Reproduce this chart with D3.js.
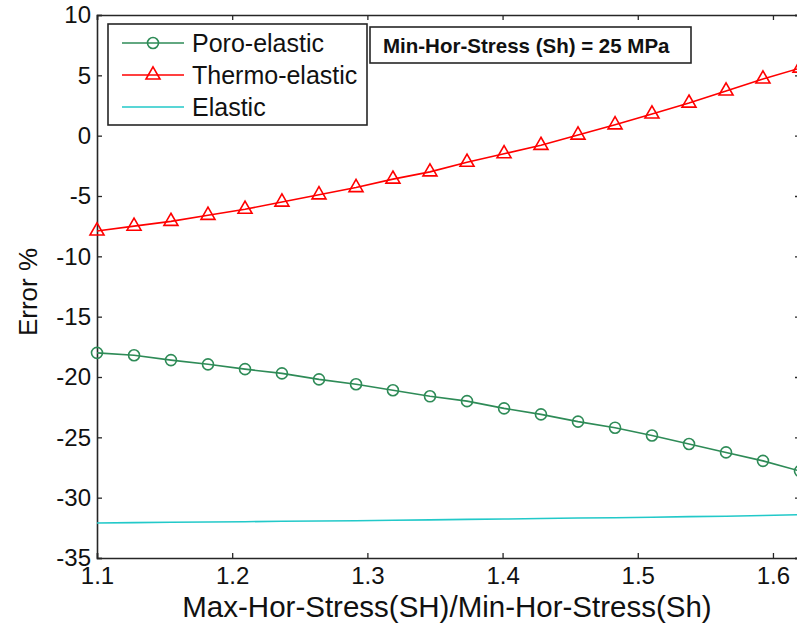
<!DOCTYPE html>
<html>
<head>
<meta charset="utf-8">
<script src="https://cdn.jsdelivr.net/npm/d3@7"></script>
<style>
  body { margin: 0; background: #fff; }
  svg { display: block; font-family: "Liberation Sans", Arial, sans-serif; }
</style>
</head>
<body>
<svg id="chart" width="797" height="629"></svg>
<script>
// ratio SH/Sh (20 runs, Sh = 25 MPa)
let ratio = [1.1, 1.1274, 1.1547, 1.1821, 1.2095, 1.2368, 1.2642, 1.2916, 1.3189, 1.3463,
             1.3737, 1.4011, 1.4284, 1.4558, 1.4832, 1.5105, 1.5379, 1.5653, 1.5926, 1.62];
let poroElastic = [-18.0, -18.2, -18.6, -18.95, -19.35, -19.7, -20.2, -20.6, -21.1, -21.6,
                   -22.0, -22.6, -23.1, -23.7, -24.2, -24.85, -25.55, -26.25, -26.95, -27.8];
let thermoElastic = [-7.9, -7.5, -7.1, -6.6, -6.1, -5.5, -4.9, -4.3, -3.6, -3.0,
                     -2.2, -1.5, -0.8, 0.05, 0.9, 1.8, 2.7, 3.7, 4.7, 5.6];
let elastic = [-32.1, -32.07, -32.04, -32.02, -31.99, -31.96, -31.93, -31.91, -31.87, -31.84,
               -31.8, -31.77, -31.73, -31.69, -31.66, -31.62, -31.57, -31.54, -31.48, -31.41];
let xTicks = [1.1, 1.2, 1.3, 1.4, 1.5, 1.6];
let yTicks = [10, 5, 0, -5, -10, -15, -20, -25, -30, -35];
let seriesNames = ["Poro-elastic", "Thermo-elastic", "Elastic"];
let annotationText = "Min-Hor-Stress (Sh) = 25 MPa";

const green = "#2e8b57", red = "#ff0000", cyan = "#22c9c9", ink = "#262626";

let svg = d3.select("#chart");

let x = d3.scaleLinear().domain([1.1, 1.62]).range([97, 800]);
let y = d3.scaleLinear().domain([-35, 10]).range([558, 15]);

// axes (box with inward ticks like matlab), plain hyphen for minus
svg.append("g")
    .attr("transform", "translate(0,558)")
    .call(d3.axisBottom(x).tickValues(xTicks).tickSize(-5).tickPadding(9).tickFormat(d => d.toFixed(1)));
svg.append("g")
    .attr("transform", "translate(0,15)")
    .call(d3.axisTop(x).tickValues(xTicks).tickSize(-5).tickFormat(""));
svg.append("g")
    .attr("transform", "translate(97,0)")
    .call(d3.axisLeft(y).tickValues(yTicks).tickSize(-5).tickPadding(6).tickFormat(d => String(d)));
svg.append("g")
    .attr("transform", "translate(800,0)")
    .call(d3.axisRight(y).tickValues(yTicks).tickSize(-5).tickFormat(""));

svg.selectAll(".domain").attr("stroke", ink).attr("stroke-width", 1.6);
svg.selectAll(".tick line").attr("stroke", ink).attr("stroke-width", 1.3);
svg.selectAll(".tick text")
    .attr("fill", "#111")
    .style("font-size", "24px");

// axis labels
svg.append("text")
    .attr("transform", "translate(37,292) rotate(-90)")
    .style("text-anchor", "middle")
    .style("font-size", "26px")
    .attr("fill", "#111")
    .text("Error %");

svg.append("text")
    .attr("x", 447)
    .attr("y", 617)
    .style("text-anchor", "middle")
    .style("font-size", "29.5px")
    .attr("fill", "#111")
    .text("Max-Hor-Stress(SH)/Min-Hor-Stress(Sh)");

// lines
function line(values, color) {
    svg.append("path")
        .datum(values)
        .attr("fill", "none")
        .attr("stroke", color)
        .attr("stroke-width", 1.6)
        .attr("d", d3.line()
            .x(function(d, i) { return x(ratio[i]); })
            .y(function(d) { return y(d); }));
}

line(elastic, cyan);
line(poroElastic, green);
line(thermoElastic, red);

let tri = d3.symbol().type(d3.symbolTriangle).size(85);

svg.selectAll("circle.poro")
    .data(poroElastic)
    .enter().append("circle")
        .attr("class", "poro")
        .attr("cx", function(d, i) { return x(ratio[i]); })
        .attr("cy", function(d) { return y(d); })
        .attr("r", 5.5)
        .attr("fill", "none")
        .attr("stroke", green)
        .attr("stroke-width", 1.6);

svg.selectAll("path.thermo")
    .data(thermoElastic)
    .enter().append("path")
        .attr("class", "thermo")
        .attr("transform", function(d, i) { return "translate(" + x(ratio[i]) + "," + y(d) + ")"; })
        .attr("d", tri)
        .attr("fill", "none")
        .attr("stroke", red)
        .attr("stroke-width", 1.6);

// legend
let legend = svg.append("g");
legend.append("rect")
    .attr("x", 108).attr("y", 24)
    .attr("width", 259).attr("height", 101)
    .attr("fill", "#fff")
    .attr("stroke", ink)
    .attr("stroke-width", 1.6);

let colors = [green, red, cyan];
seriesNames.forEach(function(name, i) {
    let ly = 43 + i * 32;
    legend.append("line")
        .attr("x1", 122).attr("x2", 184)
        .attr("y1", ly).attr("y2", ly)
        .attr("stroke", colors[i])
        .attr("stroke-width", 1.6);
    if (i == 0) {
        legend.append("circle")
            .attr("cx", 153).attr("cy", ly).attr("r", 5.5)
            .attr("fill", "none").attr("stroke", green).attr("stroke-width", 1.6);
    } else if (i == 1) {
        legend.append("path")
            .attr("transform", "translate(153," + ly + ")")
            .attr("d", tri)
            .attr("fill", "none").attr("stroke", red).attr("stroke-width", 1.6);
    }
    legend.append("text")
        .attr("x", 192).attr("y", ly + 9)
        .style("font-size", "25px")
        .attr("fill", "#111")
        .text(name);
});

// annotation box
svg.append("rect")
    .attr("x", 370).attr("y", 27)
    .attr("width", 321).attr("height", 36)
    .attr("fill", "#fff")
    .attr("stroke", ink)
    .attr("stroke-width", 1.6);
svg.append("text")
    .attr("x", 383).attr("y", 53)
    .style("font-size", "20.5px")
    .style("font-weight", "bold")
    .attr("fill", "#111")
    .text(annotationText);
</script>
</body>
</html>
